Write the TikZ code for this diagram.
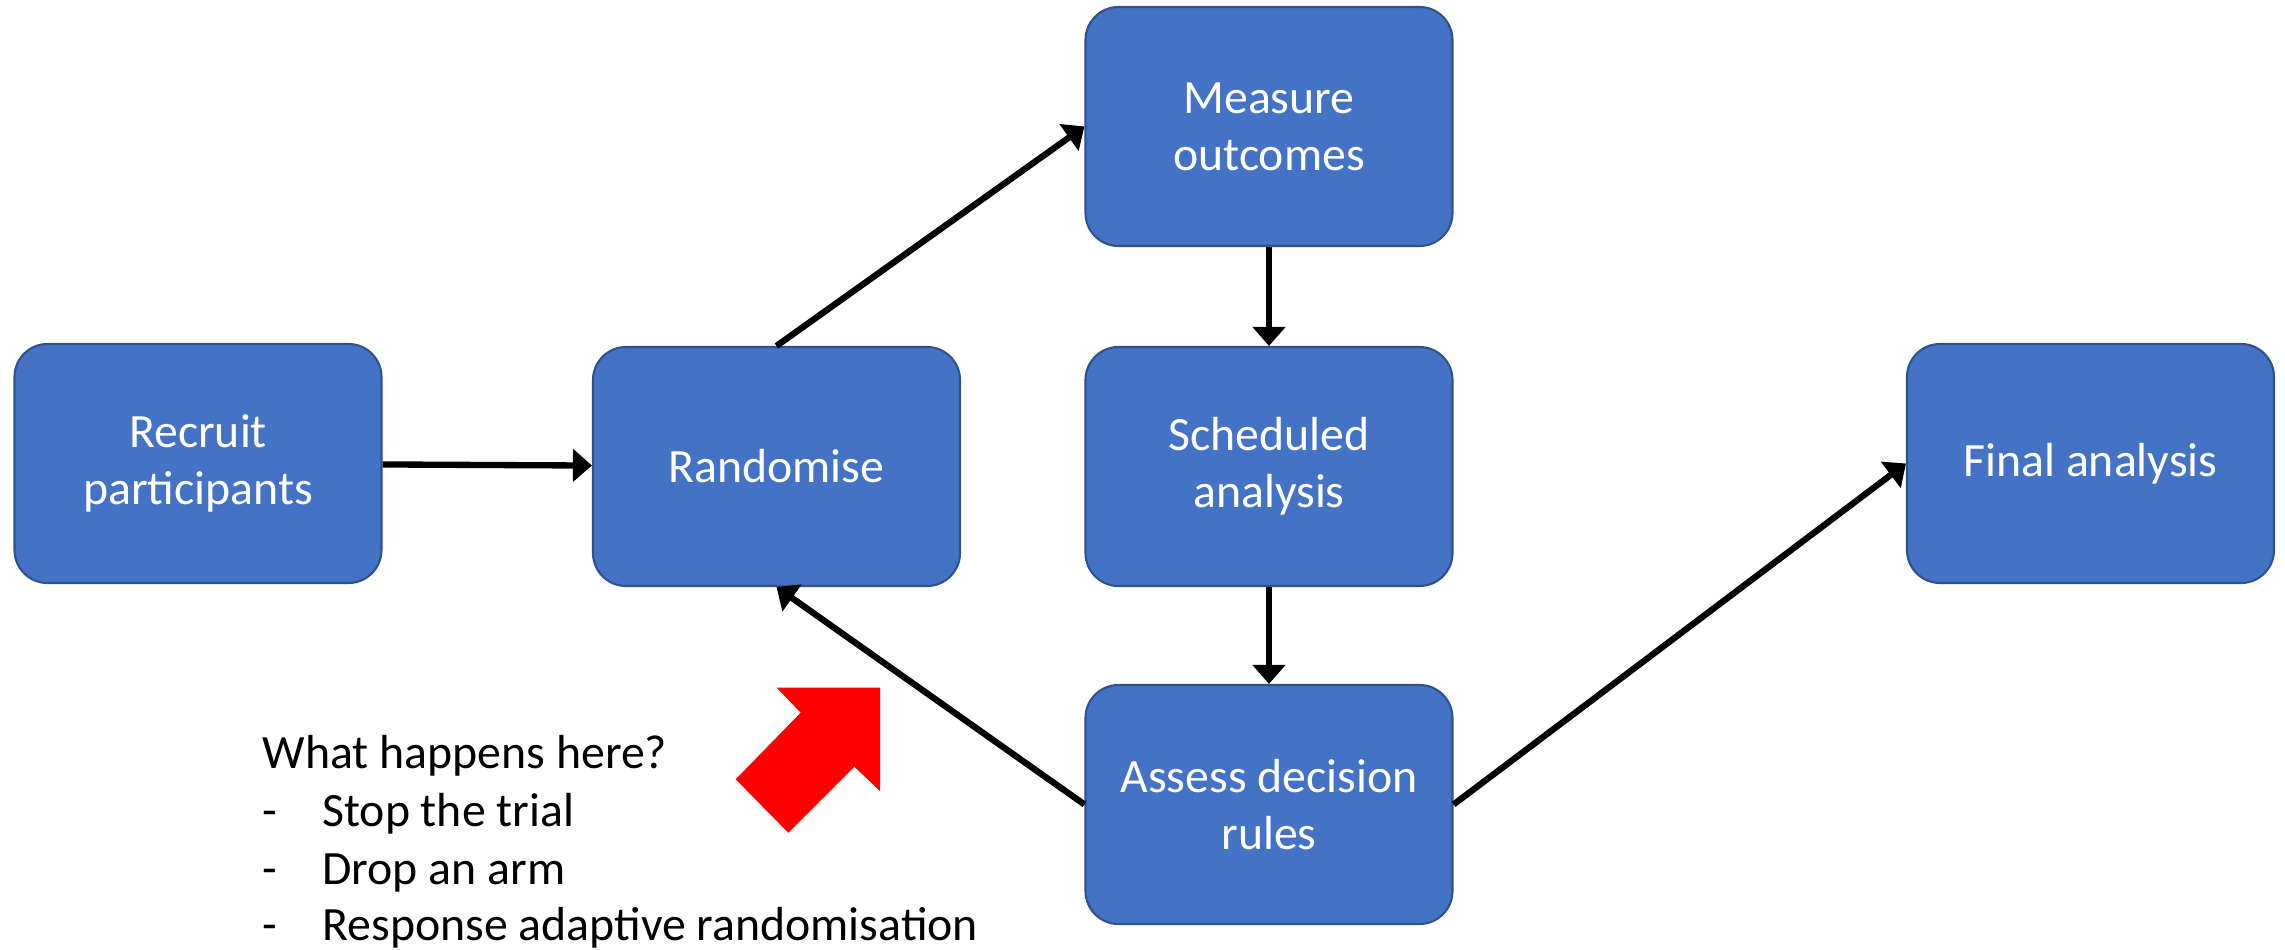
\documentclass[tikz,border=0pt]{standalone}
\usepackage{fontspec}
\setmainfont{Carlito}
\usetikzlibrary{arrows.meta,positioning}
\definecolor{boxfill}{HTML}{4472C4}
\definecolor{boxline}{HTML}{2F528F}
\tikzset{
  stage/.style     = {rectangle, rounded corners=0.33cm, draw=boxline, line width=0.6pt,
                      fill=boxfill, text=white, align=center,
                      minimum width=3.67cm, minimum height=2.39cm,
                      font=\fontsize{13.6}{16.3}\selectfont},
  flow/.style      = {-{Triangle[length=1.9mm,width=3.2mm]}, line width=1.8pt},
  note/.style      = {anchor=base west, inner sep=0pt,
                      font=\fontsize{13.6}{16.3}\selectfont},
  bigarrow/.style  = {fill=red, draw=none},
}

\begin{document}
\begin{tikzpicture}
  \useasboundingbox (0,0) rectangle (22.85,-9.5);

  % stages of the trial
  \node[stage] (recruit)   at (1.98,-4.635)  {Recruit\\participants};
  \node[stage] (randomise) at (7.765,-4.665) {Randomise};
  \node[stage] (measure)   at (12.69,-1.265) {Measure\\outcomes};
  \node[stage] (sched)     at (12.69,-4.665) {Scheduled\\analysis};
  \node[stage] (assess)    at (12.69,-8.045) {Assess decision\\rules};
  \node[stage] (final)     at (20.905,-4.635) {Final analysis};

  \draw[flow] (recruit) -- (randomise);
  \draw[flow] (randomise.north) -- (measure.west);
  \draw[flow] (measure) -- (sched);
  \draw[flow] (sched) -- (assess);
  \draw[flow] (assess.west) -- (randomise.south);
  \draw[flow] (assess.east) -- (final.west);

  % red pointer
  \fill[bigarrow] (7.767,-6.877) -- (8.80,-6.877) -- (8.80,-7.91) -- (8.543,-7.667)
    -- (7.883,-8.327) -- (7.357,-7.793) -- (8.007,-7.127) -- cycle;

  % question and options
  \node[note] (question) at (2.62,-7.68) {What happens here?};
  \node[note] (opt1) at (2.62,-8.26) {\makebox[0.597cm][l]{-}Stop the trial};
  \node[note] (opt2) at (2.62,-8.84) {\makebox[0.597cm][l]{-}Drop an arm};
  \node[note] (opt3) at (2.62,-9.40) {\makebox[0.597cm][l]{-}Response adaptive randomisation};
\end{tikzpicture}
\end{document}
